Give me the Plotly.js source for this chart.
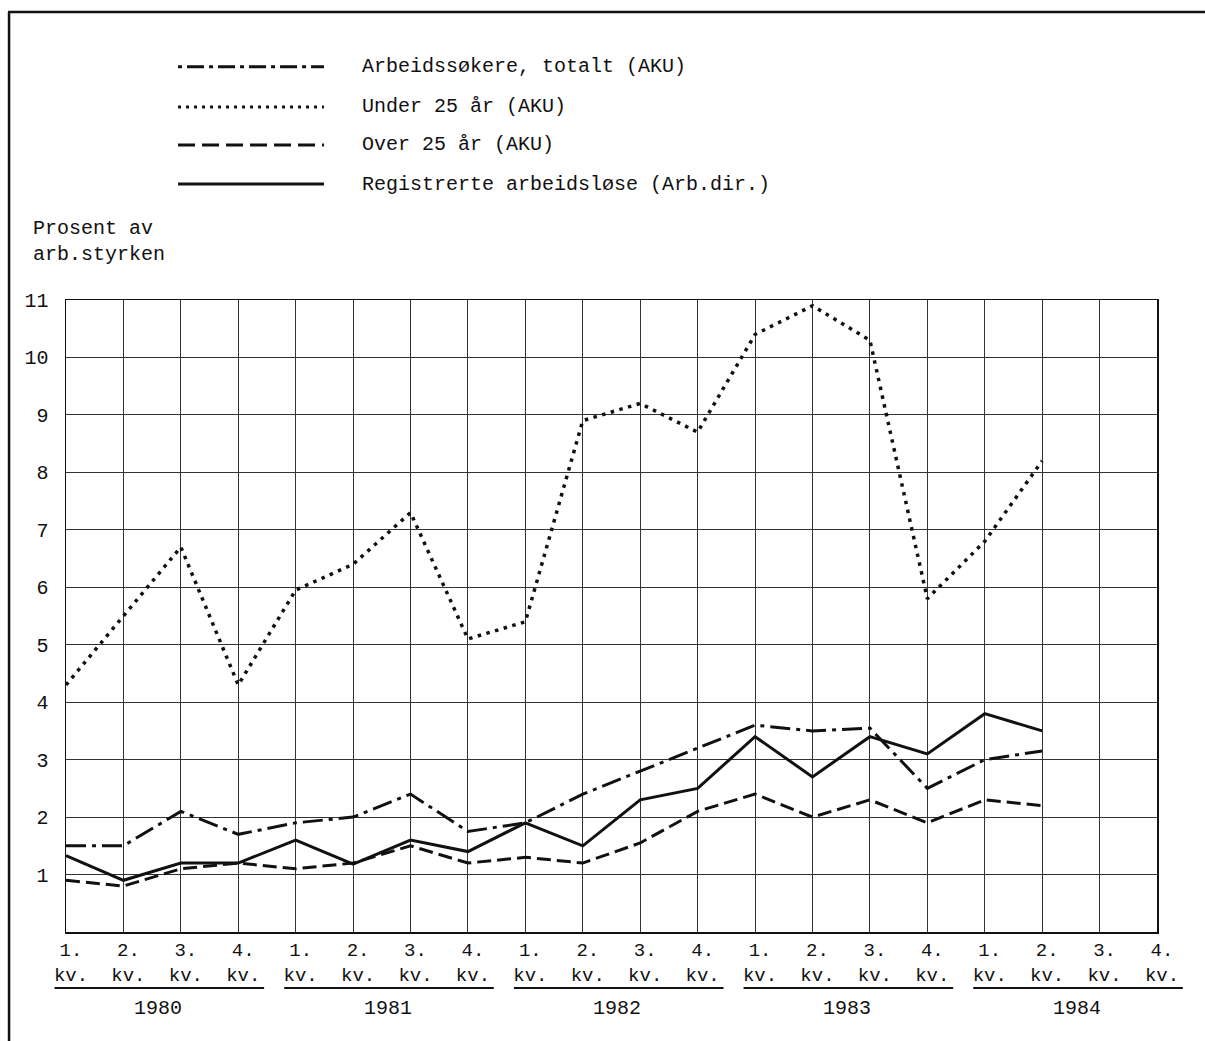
<!DOCTYPE html>
<html>
<head>
<meta charset="utf-8">
<script src="https://cdn.plot.ly/plotly-3.0.1.min.js"></script>
<style>
  html, body { margin: 0; padding: 0; background: #fff; }
  #chart { width: 1205px; height: 1041px; }
</style>
</head>
<body>
<div id="chart"></div>
<script>
// ---- data ----
var years = ["1980", "1981", "1982", "1983", "1984"];
var quarterLabels = ["1.", "2.", "3.", "4."];
var quarterIndex = [0,1,2,3,4,5,6,7,8,9,10,11,12,13,14,15,16,17];

var totalt      = [1.5, 1.5, 2.1, 1.7, 1.9, 2.0, 2.4, 1.75, 1.9, 2.4, 2.8, 3.2, 3.6, 3.5, 3.55, 2.5, 3.0, 3.15];
var under25     = [4.3, 5.5, 6.7, 4.3, 5.95, 6.4, 7.3, 5.1, 5.4, 8.9, 9.2, 8.7, 10.4, 10.9, 10.3, 5.8, 6.8, 8.2];
var over25      = [0.9, 0.8, 1.1, 1.2, 1.1, 1.2, 1.5, 1.2, 1.3, 1.2, 1.55, 2.1, 2.4, 2.0, 2.3, 1.9, 2.3, 2.2];
var registrerte = [1.33, 0.9, 1.2, 1.2, 1.6, 1.18, 1.6, 1.4, 1.9, 1.5, 2.3, 2.5, 3.4, 2.7, 3.4, 3.1, 3.8, 3.5];

var seriesNames = [
  "Arbeidssøkere, totalt (AKU)",
  "Under 25 år (AKU)",
  "Over 25 år (AKU)",
  "Registrerte arbeidsløse (Arb.dir.)"
];
var yTicks = [1,2,3,4,5,6,7,8,9,10,11];

// ---- styling ----
var FONT = "Liberation Mono, DejaVu Sans Mono, monospace";
var INK = "#111";
var dashes = ["20px,6px,4px,6px", "3.5px,5.5px", "14px,6px", "solid"];
var widths = [3, 3.5, 3, 3];
var X_RANGE = [0, 19];

var allTicks = [], allText = [];
for (var y = 0; y < years.length; y++) {
  for (var q = 0; q < 4; q++) {
    allTicks.push(y * 4 + q);
    allText.push(quarterLabels[q] + "<br>kv.");
  }
}

var seriesData = [totalt, under25, over25, registrerte];
var traces = seriesData.map(function (vals, i) {
  return {
    type: "scatter", mode: "lines",
    x: quarterIndex, y: vals, name: seriesNames[i],
    line: { color: INK, width: widths[i], dash: dashes[i] },
    showlegend: false, hoverinfo: "skip"
  };
});

function xp(v) { return (v - X_RANGE[0]) / (X_RANGE[1] - X_RANGE[0]); }

var shapes = [];
var annotations = [];

// frame lines (left + top) of the figure
shapes.push({ type: "line", xref: "paper", yref: "paper", x0: -0.0522, x1: -0.0522, y0: 1.4557, y1: -0.2, line: { color: INK, width: 2.5 } });
shapes.push({ type: "line", xref: "paper", yref: "paper", x0: -0.0532, x1: 1.05, y0: 1.4557, y1: 1.4557, line: { color: INK, width: 2.5 } });

// custom legend
var legY = [1.3690, 1.3054, 1.2453, 1.1835];
for (var i = 0; i < seriesNames.length; i++) {
  shapes.push({ type: "line", xref: "paper", yref: "paper",
    x0: 0.1027, x1: 0.2365, y0: legY[i], y1: legY[i],
    line: { color: INK, width: 3, dash: i === 0 ? "4px,5px,17px,5px" : (i === 1 ? "3px,5px" : (i === 2 ? "17px,7px" : "solid")) } });
  annotations.push({ xref: "paper", yref: "paper", x: 0.2695, y: legY[i],
    xanchor: "left", yanchor: "middle", showarrow: false, text: seriesNames[i],
    font: { family: FONT, size: 20, color: INK } });
}

// y unit label
annotations.push({ xref: "paper", yref: "paper", x: -0.0321, y: 1.093, xanchor: "left", yanchor: "middle",
  align: "left", showarrow: false, text: "Prosent av<br>arb.styrken",
  font: { family: FONT, size: 20, color: INK } });

// year underlines + labels
for (var k = 0; k < years.length; k++) {
  var s = k * 4;
  shapes.push({ type: "line", xref: "paper", yref: "paper",
    x0: xp(s - 0.2), x1: xp(s + 3.45), y0: -0.0886, y1: -0.0886,
    line: { color: INK, width: 2 } });
  annotations.push({ xref: "x", yref: "paper", x: s + 1.6, y: -0.121,
    xanchor: "center", yanchor: "middle", showarrow: false, text: years[k],
    font: { family: FONT, size: 20, color: INK } });
}

var layout = {
  width: 1205, height: 1041,
  margin: { l: 66, r: 48, t: 300, b: 109, pad: 0 },
  paper_bgcolor: "#fff", plot_bgcolor: "#fff",
  font: { family: FONT, size: 20, color: INK },
  showlegend: false,
  xaxis: {
    range: X_RANGE, tickmode: "array", tickvals: allTicks, ticktext: allText,
    showgrid: true, gridcolor: "#333", gridwidth: 1,
    showline: true, linecolor: INK, linewidth: 1.5, mirror: true,
    zeroline: false, ticks: "", ticklabelshift: 5, ticklabelstandoff: 0,
    tickfont: { family: FONT, size: 19, color: INK }, fixedrange: true
  },
  yaxis: {
    range: [0, 11], tickmode: "array", tickvals: yTicks, ticktext: yTicks.map(String),
    showgrid: true, gridcolor: "#333", gridwidth: 1,
    showline: true, linecolor: INK, linewidth: 1.5, mirror: true,
    zeroline: false, ticks: "", ticklabelstandoff: 12,
    tickfont: { family: FONT, size: 20, color: INK }, fixedrange: true
  },
  shapes: shapes,
  annotations: annotations
};

Plotly.newPlot("chart", traces, layout, { displayModeBar: false, staticPlot: true });
</script>
</body>
</html>
